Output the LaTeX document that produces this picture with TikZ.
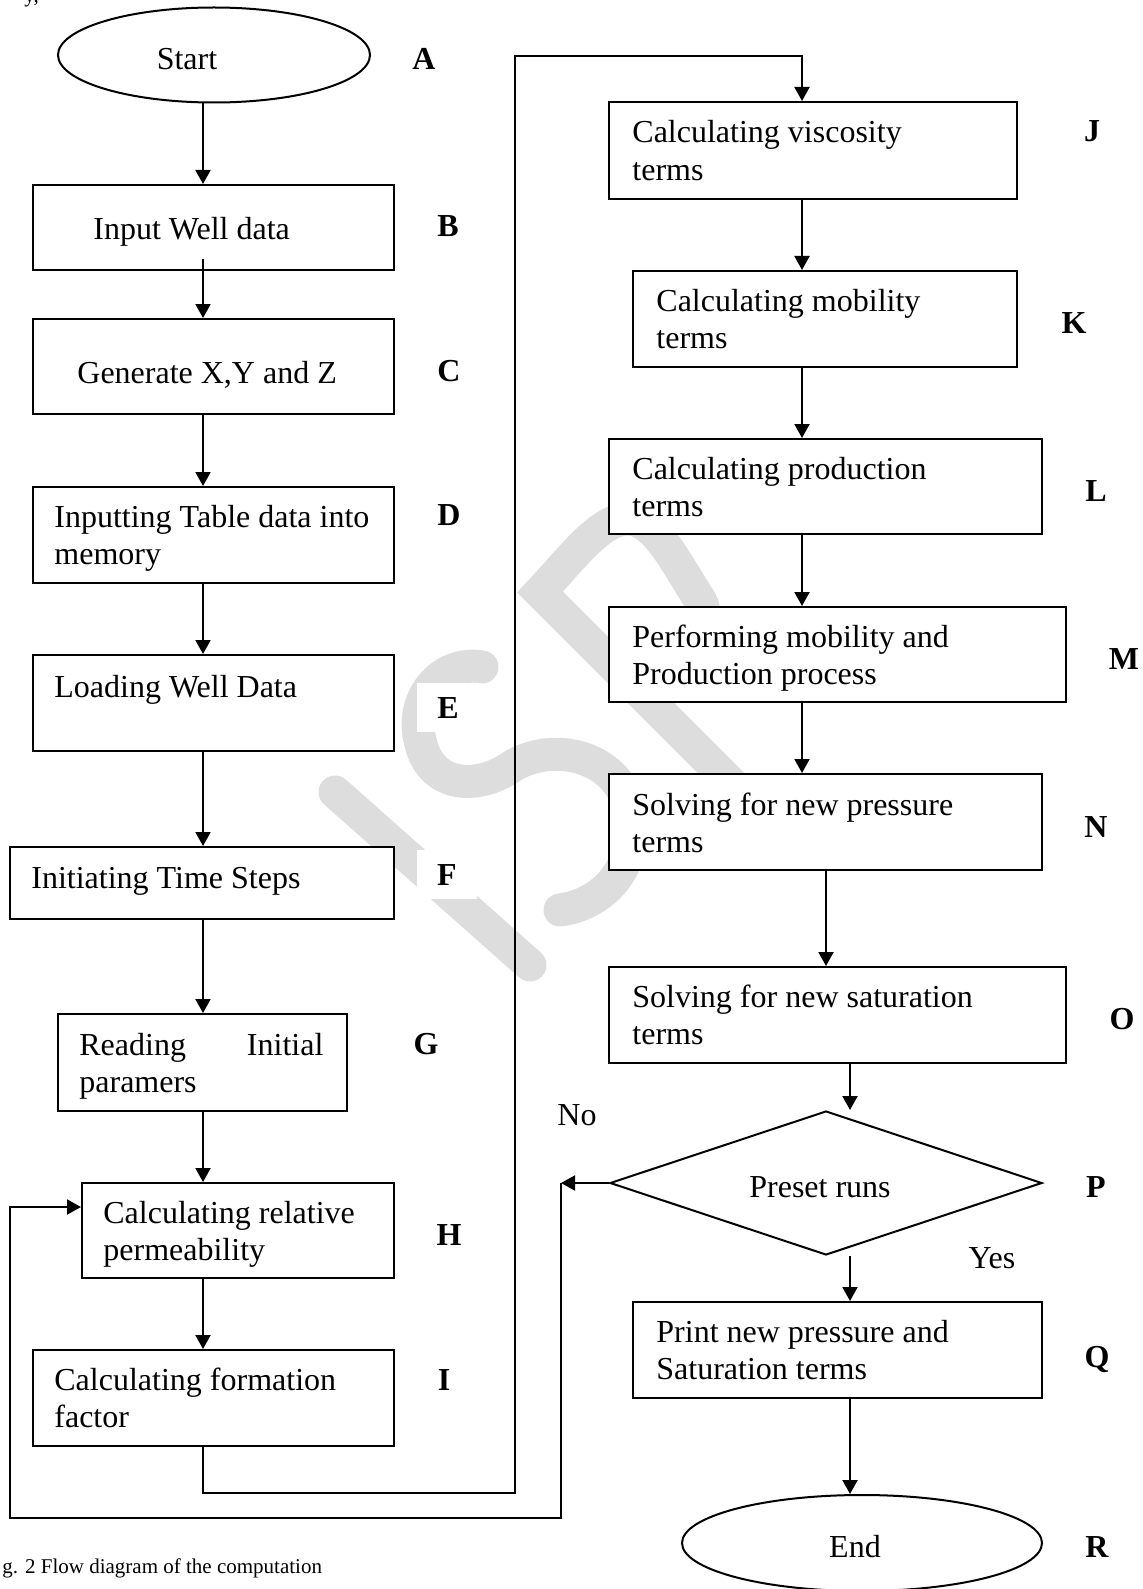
\documentclass[tikz,border=0pt]{standalone}
\usepackage{fontspec}
\setmainfont{Liberation Serif}
\usetikzlibrary{shapes.geometric,arrows.meta,calc}
\definecolor{wmgray}{RGB}{221,221,221}

\tikzset{
  box/.style={draw, fill=white, line width=1pt, inner sep=0pt},
  term/.style={ellipse, draw, fill=white, line width=1pt, inner sep=0pt},
  txt/.style={anchor=base west, inner sep=0pt, font=\fontsize{16}{18.65}\selectfont},
  mtxt/.style={txt, align=flush left},
  ctxt/.style={txt, anchor=base},
  lbl/.style={anchor=base, fill=white, inner xsep=10pt, inner ysep=7pt, font=\fontsize{16}{18.65}\selectfont\bfseries},
  arr/.style={line width=1pt, -{Triangle[length=7pt,width=7.5pt]}},
  wm/.style={wmgray, line width=16.5pt},
}

\begin{document}
\begin{tikzpicture}[x=0.5pt,y=0.5pt,yscale=-1,xscale=1]
\useasboundingbox (0,0) rectangle (1143,1589);

%Curve Lines [watermark]
\draw[wm, line cap=round] (335,792) -- (530,965);
\draw[wm, line cap=round] (482,667) .. controls (440,660) and (410,700) .. (420,740) .. controls (430,790) and (480,790) .. (514,765) .. controls (560,740) and (620,760) .. (630,810) .. controls (640,870) and (600,905) .. (560,910);
\draw[wm] (745,797) -- (540,592) .. controls (575,555) and (605,512) .. (635,520) .. controls (660,527) and (680,570) .. (700,600) .. controls (715,625) and (690,680) .. (650,700);

%Shape: Ellipse
\node[term, minimum width=156pt, minimum height=47.5pt] (A) at (214,55) {};
\node[term, minimum width=180pt, minimum height=48pt] (R) at (862,1543) {};
%Shape: Diamond
\node[diamond, draw, fill=white, line width=1pt, inner sep=0pt, minimum width=216pt, minimum height=72pt] (P) at (826,1183) {};

%Shape: Rectangle
\node[box, minimum width=180.5pt, minimum height=42.5pt] (B) at (213.5,227.5) {};
\node[box, minimum width=180.5pt, minimum height=47.5pt] (C) at (213.5,366.5) {};
\node[box, minimum width=180.5pt, minimum height=48pt] (D) at (213.5,535) {};
\node[box, minimum width=180.5pt, minimum height=48pt] (E) at (213.5,703) {};
\node[box, minimum width=192pt, minimum height=36pt] (F) at (202,883) {};
\node[box, minimum width=144.5pt, minimum height=48.5pt] (G) at (202.5,1062.5) {};
\node[box, minimum width=156pt, minimum height=47.5pt] (H) at (238,1230.5) {};
\node[box, minimum width=180.5pt, minimum height=48pt] (I) at (213.5,1398) {};
\node[box, minimum width=204pt, minimum height=48.5pt] (J) at (813,150.5) {};
\node[box, minimum width=192pt, minimum height=48pt] (K) at (825,319) {};
\node[box, minimum width=216.5pt, minimum height=47.5pt] (L) at (825.5,486.5) {};
\node[box, minimum width=228.5pt, minimum height=47.5pt] (M) at (837.5,654.5) {};
\node[box, minimum width=216.5pt, minimum height=48pt] (N) at (825.5,822) {};
\node[box, minimum width=228.5pt, minimum height=48pt] (O) at (837.5,1015) {};
\node[box, minimum width=204.5pt, minimum height=48pt] (Q) at (837.5,1350) {};

%Text
\node[ctxt] (At) at (187,70) {Start};
\node[txt] (Bt) at (93,240) {Input Well data};
\node[txt] (Ct) at (77,383) {Generate X,Y and Z};
\node[mtxt, text width=165pt] (Dt) at (54,527) {Inputting Table data into\\memory};
\node[txt] (Et) at (54,697) {Loading Well Data};
\node[txt] (Ft) at (31,888) {Initiating Time Steps};
\node[txt, text width=122pt, align=justify] (Gt) at (79,1055) {Reading\hfill Initial\\paramers};
\node[mtxt, text width=140pt] (Ht) at (103,1223) {Calculating relative\\permeability};
\node[mtxt, text width=165pt] (It) at (54,1390) {Calculating formation\\factor};
\node[mtxt, text width=185pt] (Jt) at (632,143) {Calculating viscosity\\terms};
\node[mtxt, text width=175pt] (Kt) at (656,311) {Calculating mobility\\terms};
\node[mtxt, text width=200pt] (Lt) at (632,479) {Calculating production\\terms};
\node[mtxt, text width=210pt] (Mt) at (632,647) {Performing mobility and\\Production process};
\node[mtxt, text width=200pt] (Nt) at (632,815) {Solving for new pressure\\terms};
\node[mtxt, text width=210pt] (Ot) at (632,1007) {Solving for new saturation\\terms};
\node[ctxt] (Pt) at (820,1197) {Preset runs};
\node[mtxt, text width=185pt] (Qt) at (656,1342) {Print new pressure and\\Saturation terms};
\node[ctxt] (Rt) at (855,1557) {End};
\node[ctxt] (no) at (577,1125) {No};
\node[ctxt] (yes) at (992,1268) {Yes};
\node[anchor=base west, inner sep=0pt, font=\fontsize{10.5}{12}\selectfont] (cap) at (2,1573) {g. 2 Flow diagram of the computation};
\node[anchor=base west, inner sep=0pt, font=\fontsize{10.5}{12}\selectfont] (frag) at (24,3) {y,};

%Labels
\node[lbl] (Al) at (424,70) {A};
\node[lbl] (Bl) at (448,237) {B};
\node[lbl] (Cl) at (449,381) {C};
\node[lbl] (Dl) at (449,525) {D};
\node[lbl] (El) at (448,718) {E};
\node[lbl] (Fl) at (447,885) {F};
\node[lbl] (Gl) at (426,1054) {G};
\node[lbl] (Hl) at (449,1245) {H};
\node[lbl] (Il) at (444,1390) {I};
\node[lbl] (Jl) at (1092,142) {J};
\node[lbl] (Kl) at (1074,333) {K};
\node[lbl] (Ll) at (1096,501) {L};
\node[lbl] (Ml) at (1124,669) {M};
\node[lbl] (Nl) at (1096,837) {N};
\node[lbl] (Ol) at (1122,1029) {O};
\node[lbl] (Pl) at (1096,1197) {P};
\node[lbl] (Ql) at (1097,1367) {Q};
\node[lbl] (Rl) at (1097,1557) {R};

%Straight Lines
\coordinate (spineL) at (203,0);
\coordinate (spineR) at (802,0);
\coordinate (spineN) at (826,0);
\coordinate (spineP) at (850,0);
\coordinate (iB) at (515,1493);
\coordinate (jT) at (802,56);
\coordinate (noL) at (561,1183);
\coordinate (loopB) at (10,1518);

\draw[arr] (A.south -| spineL) -- (B.north -| spineL);
\draw[arr] ($(B.south -| spineL)+(0,-12)$) -- (C.north -| spineL);
\foreach \a/\b in {C/D,D/E,E/F,F/G,G/H,H/I}
  \draw[arr] (\a.south -| spineL) -- (\b.north -| spineL);
\draw[arr] (I.south -| spineL) |- (iB) |- (jT) -- (J.north -| jT);
\foreach \a/\b in {J/K,K/L,L/M,M/N}
  \draw[arr] (\a.south -| spineR) -- (\b.north -| spineR);
\draw[arr] (N.south -| spineN) -- (O.north -| spineN);
\draw[arr] (O.south -| spineP) -- (P.north -| spineP);
\draw[arr] (P.south -| spineP) -- (Q.north -| spineP);
\draw[arr] (Q.south -| spineP) -- (R.north -| spineP);
\draw[arr] (P.west) -- (noL);
\draw[arr] (noL) |- (loopB) |- ($(H.west)+(0,-23.5)$);

\end{tikzpicture}
\end{document}
